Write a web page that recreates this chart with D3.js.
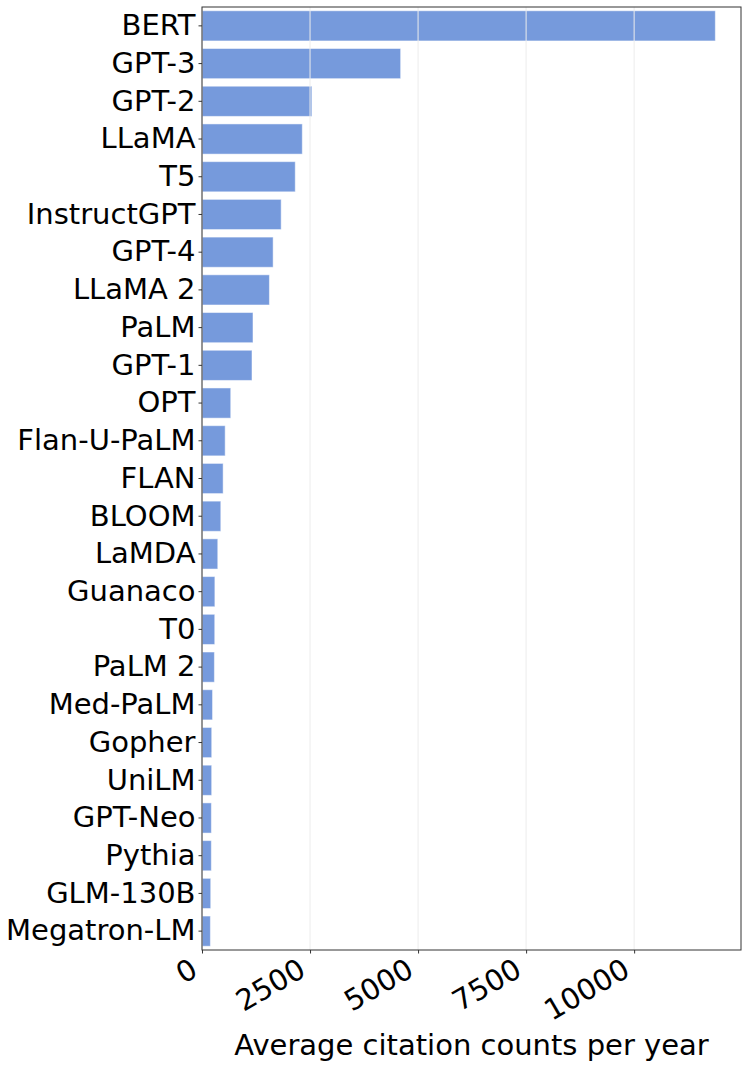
<!DOCTYPE html>
<html>
<head>
<meta charset="utf-8">
<script src="https://d3js.org/d3.v7.min.js"></script>
<style>
  body { margin: 0; background: #fff; }
  svg text { font-family: "DejaVu Sans", sans-serif; }
</style>
</head>
<body>
<div id="chart"></div>
<script>
// data
const models = ["BERT", "GPT-3", "GPT-2", "LLaMA", "T5", "InstructGPT", "GPT-4", "LLaMA 2",
  "PaLM", "GPT-1", "OPT", "Flan-U-PaLM", "FLAN", "BLOOM", "LaMDA", "Guanaco", "T0",
  "PaLM 2", "Med-PaLM", "Gopher", "UniLM", "GPT-Neo", "Pythia", "GLM-130B", "Megatron-LM"];
const citations = [11879, 4597, 2542, 2321, 2158, 1832, 1646, 1560,
  1180, 1157, 665, 536, 489, 435, 365, 298, 295,
  287, 244, 225, 224, 217, 216, 202, 194];
const xTicks = [0, 2500, 5000, 7500, 10000];
const xTitle = "Average citation counts per year";

const width = 748, height = 1067;
const margin = { top: 7, right: 7, bottom: 117, left: 202 };
const fontSize = 29;

const svg = d3.select("#chart").append("svg")
  .attr("width", width)
  .attr("height", height);

const x = d3.scaleLinear()
  .domain([0, d3.max(citations) * 1.05])
  .range([margin.left, width - margin.right]);

const y = d3.scaleBand()
  .domain(models)
  .range([margin.top, height - margin.bottom])
  .paddingInner(0.2)
  .paddingOuter(0.1);

const data = models.map((m, i) => ({ model: m, value: citations[i] }));

// bars
svg.append("g")
  .selectAll("rect")
  .data(data)
  .join("rect")
    .attr("x", x(0))
    .attr("y", d => y(d.model))
    .attr("width", d => x(d.value) - x(0))
    .attr("height", y.bandwidth())
    .attr("fill", "#769adc")
    .attr("stroke", "#ffffff")
    .attr("stroke-opacity", 0.5)
    .attr("stroke-width", 1);

// vertical grid on top of bars
svg.append("g")
  .selectAll("line")
  .data(xTicks)
  .join("line")
    .attr("x1", d => x(d)).attr("x2", d => x(d))
    .attr("y1", margin.top).attr("y2", height - margin.bottom)
    .attr("stroke", "#ececec")
    .attr("stroke-width", 1);

// y axis
const yAxis = svg.append("g")
  .attr("transform", `translate(${margin.left},0)`)
  .call(d3.axisLeft(y).tickSize(3.5).tickPadding(3))
  .call(g => g.select(".domain").remove());
yAxis.selectAll("text")
  .attr("font-size", fontSize)
  .attr("fill", "#000")
  .style("font-family", "DejaVu Sans");
yAxis.selectAll(".tick line").attr("stroke", "#333");

// x axis, labels rotated 30deg and right-aligned to the tick
const xAxis = svg.append("g")
  .attr("transform", `translate(0,${height - margin.bottom})`)
  .call(d3.axisBottom(x).tickValues(xTicks).tickFormat(d3.format("d")).tickSize(3.5))
  .call(g => g.select(".domain").remove());
xAxis.selectAll(".tick line").attr("stroke", "#333");
xAxis.selectAll("text")
  .attr("font-size", fontSize)
  .attr("fill", "#000")
  .style("font-family", "DejaVu Sans")
  .attr("text-anchor", "end")
  .attr("x", 0)
  .attr("y", 0)
  .attr("dy", 0)
  .attr("transform", "translate(-3,25) rotate(-30)");

// frame
svg.append("rect")
  .attr("x", margin.left)
  .attr("y", margin.top)
  .attr("width", width - margin.right - margin.left)
  .attr("height", height - margin.bottom - margin.top)
  .attr("fill", "none")
  .attr("stroke", "#333")
  .attr("stroke-width", 1);

// x title
svg.append("text")
  .attr("x", (margin.left + width - margin.right) / 2)
  .attr("y", 1055)
  .attr("text-anchor", "middle")
  .attr("font-size", fontSize)
  .attr("fill", "#000")
  .text(xTitle);
</script>
</body>
</html>
